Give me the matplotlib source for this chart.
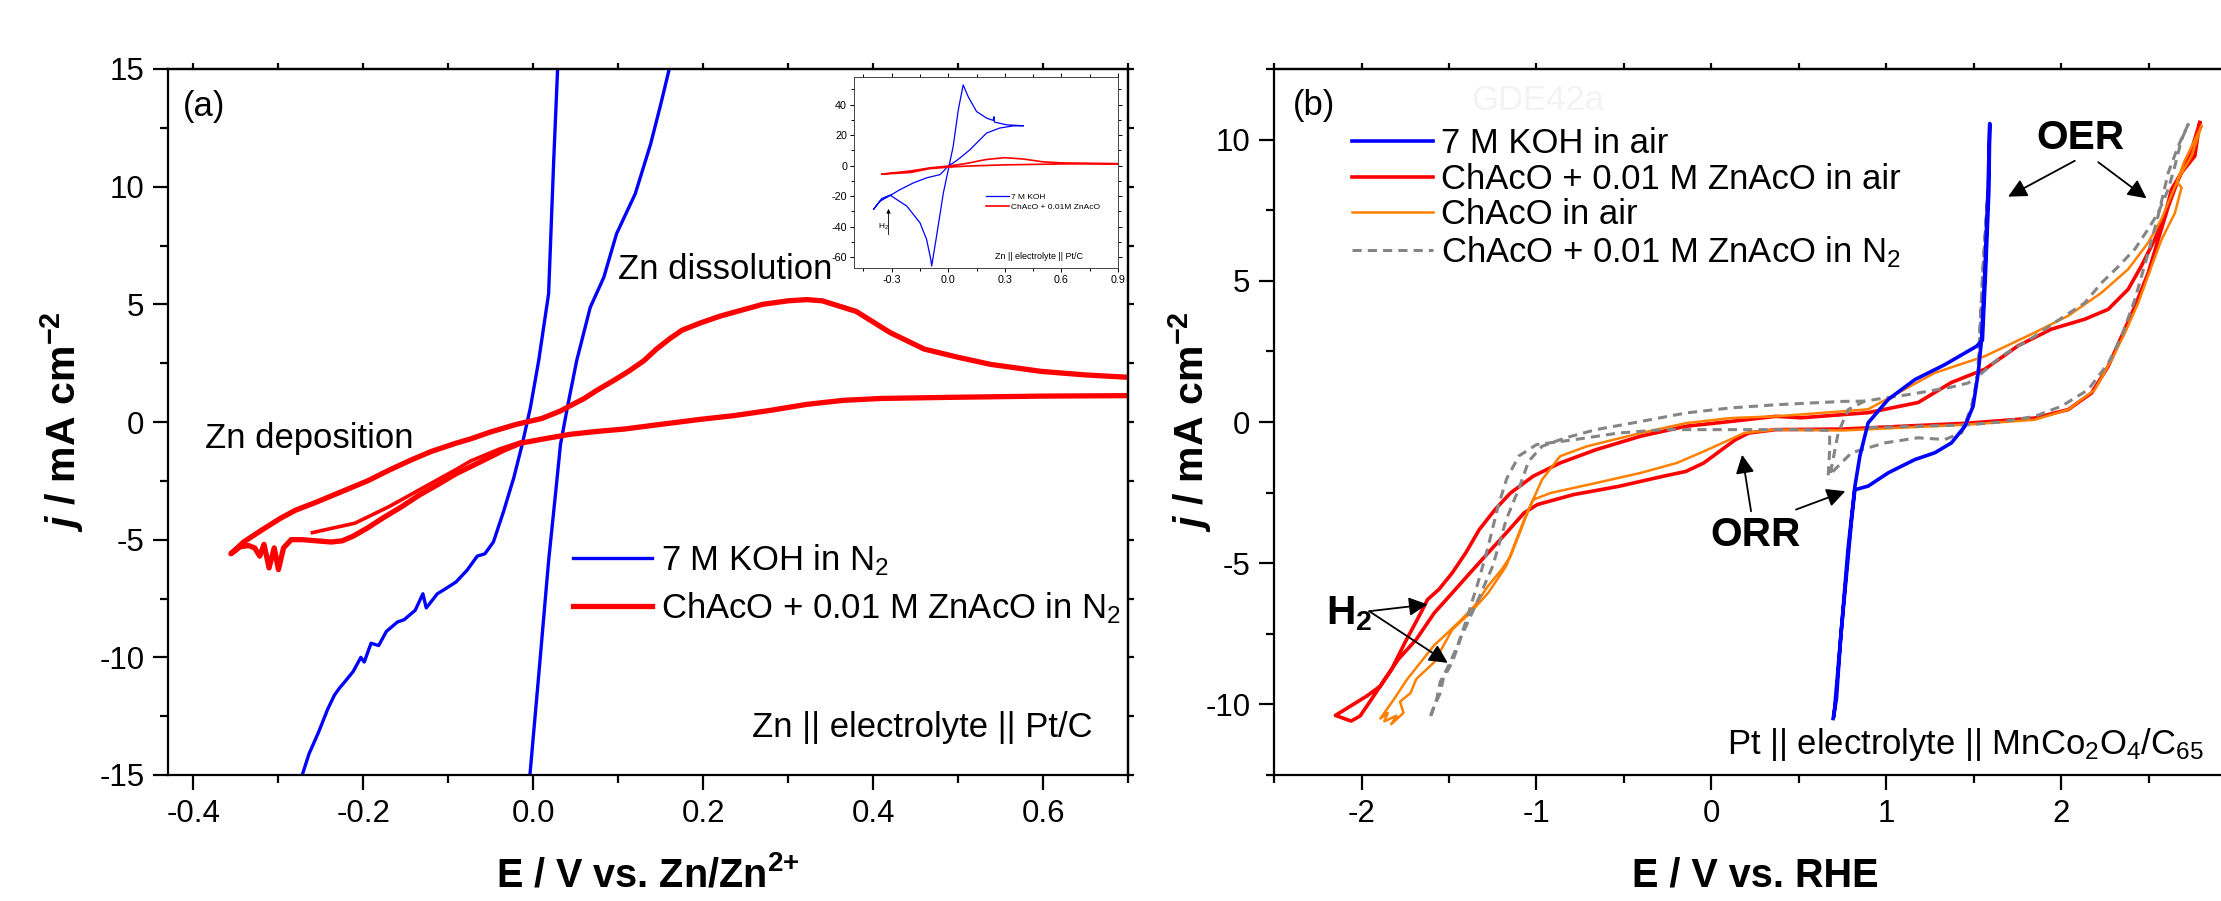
import numpy as np
import matplotlib
matplotlib.use('Agg')
import matplotlib.pyplot as plt
from matplotlib.ticker import MultipleLocator, FixedLocator, FormatStrFormatter
from matplotlib import font_manager

names = {f.name for f in font_manager.fontManager.ttflist}
if 'Liberation Sans Narrow' in names:
    FONT, K = 'Liberation Sans Narrow', 1.0
else:
    FONT, K = 'Liberation Sans', 0.86   # regular width face -> smaller sizes
plt.rcParams['font.family'] = [FONT, 'DejaVu Sans']
plt.rcParams['axes.unicode_minus'] = False
plt.rcParams['mathtext.fontset'] = 'custom'
plt.rcParams['mathtext.rm'] = FONT
plt.rcParams['mathtext.it'] = FONT + ':italic'
plt.rcParams['mathtext.bf'] = FONT + ':bold'
plt.rcParams['mathtext.bfit'] = FONT + ':bold:italic'

# ---------------- panel (a): Zn || electrolyte || Pt/C ----------------
# 7 M KOH in N2, cathodic (noisy) branch up to the steep rise
koh_a_v1 = [-0.272, -0.264, -0.253, -0.242, -0.234, -0.228, -0.221, -0.212, -0.203, -0.199,
            -0.191, -0.182, -0.173, -0.160, -0.152, -0.139, -0.130, -0.126, -0.113, -0.104,
            -0.091, -0.078, -0.066, -0.057, -0.047, -0.035, -0.023, -0.013, -0.0035, 0.0063,
            0.018, 0.024, 0.0286]
koh_a_j1 = [-15.0, -14.1, -13.2, -12.2, -11.6, -11.3, -11.0, -10.6, -10.0, -10.2,
            -9.4, -9.5, -8.9, -8.5, -8.4, -8.0, -7.3, -7.9, -7.3, -7.1,
            -6.8, -6.3, -5.7, -5.6, -5.1, -3.8, -2.37, -0.94, 0.6, 2.6,
            5.45, 11.1, 15.0]
# 7 M KOH in N2, anodic branch
koh_a_v2 = [-0.004, 0.007, 0.018, 0.026, 0.032, 0.040, 0.051, 0.067, 0.083, 0.098, 0.120, 0.138, 0.150, 0.160]
koh_a_j2 = [-15.0, -10.5, -5.9, -3.1, -0.95, 0.6, 2.6, 4.87, 6.15, 8.0, 9.7, 11.8, 13.5, 15.0]

# ChAcO + 0.01 M ZnAcO in N2
zn_a_v = [0.700, 0.650, 0.598, 0.538, 0.500, 0.460, 0.420, 0.380, 0.340, 0.322, 0.300, 0.270,
          0.245, 0.220, 0.196, 0.175, 0.161, 0.145, 0.130, 0.112, 0.094, 0.075, 0.060, 0.045,
          0.032, 0.010, -0.020, -0.050, -0.074, -0.091, -0.120, -0.143, -0.170, -0.195, -0.225,
          -0.255, -0.280, -0.298, -0.320, -0.341, -0.356, -0.345, -0.335, -0.328, -0.322, -0.317,
          -0.311, -0.305, -0.300, -0.294, -0.285, -0.272, -0.255, -0.238, -0.225, -0.212, -0.195,
          -0.178, -0.155, -0.134, -0.112, -0.091, -0.074, -0.057, -0.035, -0.015, 0.015, 0.044,
          0.075, 0.107, 0.150, 0.196, 0.236, 0.280, 0.322, 0.365, 0.409, 0.495, 0.598, 0.700]
zn_a_j = [1.9, 2.0, 2.15, 2.45, 2.75, 3.1, 3.8, 4.7, 5.15, 5.2, 5.15, 5.0,
          4.75, 4.5, 4.2, 3.9, 3.55, 3.1, 2.6, 2.15, 1.75, 1.35, 1.0, 0.72,
          0.47, 0.15, -0.1, -0.42, -0.72, -0.9, -1.25, -1.6, -2.05, -2.5, -2.95,
          -3.4, -3.75, -4.1, -4.6, -5.1, -5.6, -5.3, -5.25, -5.35, -5.7, -5.2,
          -6.2, -5.35, -6.27, -5.35, -5.0, -5.0, -5.05, -5.1, -5.05, -4.85, -4.5,
          -4.1, -3.6, -3.1, -2.65, -2.2, -1.9, -1.6, -1.2, -0.9, -0.7, -0.52,
          -0.4, -0.3, -0.1, 0.11, 0.27, 0.5, 0.75, 0.92, 1.0, 1.05, 1.1, 1.12]
# second cycle (lower double line)
zn_a_v2 = [-0.26, -0.21, -0.17, -0.13, -0.09, -0.074, -0.04, -0.015]
zn_a_j2 = [-4.7, -4.3, -3.6, -2.8, -2.0, -1.66, -1.15, -0.85]

# inset: full CVs
inset_koh_v = [0.397, 0.344, 0.273, 0.203, 0.168, 0.115, 0.062, 0.026, 0.0, -0.026, -0.044, -0.115,
               -0.185, -0.256, -0.309, -0.362, -0.397, -0.353, -0.309, -0.22, -0.15, -0.115, -0.093,
               -0.088, -0.062, -0.026, 0.0, 0.026, 0.053, 0.079, 0.106, 0.15, 0.203, 0.238, 0.242,
               0.245, 0.309, 0.397]
inset_koh_j = [26.1, 26.0, 24.6, 21.3, 17.0, 10.4, 5.0, 1.7, 0.0, -3.7, -5.9, -8.0,
               -11.3, -15.7, -19.6, -23.3, -28.7, -21.5, -19.3, -26.5, -37.4, -48.3, -61.3,
               -65.7, -46.0, -17.8, -2.6, 12.6, 36.5, 52.8, 45.0, 35.4, 31.1, 29.6, 32.0,
               28.5, 26.7, 26.1]
inset_zn_v = [-0.35, -0.2, -0.1, 0.0, 0.1, 0.2, 0.3, 0.4, 0.5, 0.6, 0.9,
              0.9, 0.6, 0.3, 0.1, 0.0, -0.1, -0.2, -0.3, -0.35]
inset_zn_j = [-5.5, -3.5, -1.5, -0.3, 1.5, 4.0, 5.2, 4.3, 2.5, 1.8, 1.3,
              1.2, 1.1, 0.5, -0.3, -1.0, -2.0, -4.5, -5.2, -5.5]

# ---------------- panel (b): Pt || electrolyte || MnCo2O4/C65 ----------------
koh_b_v = [0.695, 0.714, 0.74, 0.77, 0.80, 0.819, 0.895, 1.01, 1.162, 1.276, 1.371, 1.448, 1.495,
           1.524, 1.543, 1.562, 1.58, 1.59, 1.585, 1.566, 1.548, 1.514, 1.333, 1.162, 1.01, 0.895,
           0.848, 0.819, 0.78, 0.74, 0.70]
koh_b_j = [-10.5, -9.8, -7.5, -5.5, -3.5, -2.4, -2.27, -1.8, -1.33, -1.09, -0.74, -0.15, 0.56,
           1.74, 2.9, 5.3, 8.2, 10.57, 8.2, 5.3, 2.9, 2.68, 2.03, 1.5, 0.8, -0.03,
           -1.2, -2.3, -4.5, -7.5, -10.4]

zn_b_v = [2.79, 2.762, 2.686, 2.629, 2.59, 2.533, 2.457, 2.381, 2.267, 2.133, 1.943, 1.752, 1.562,
          1.371, 1.181, 0.895, 0.514, 0.367, 0.11, -0.146, -0.403, -0.66, -0.865, -1.019, -1.148,
          -1.237, -1.327, -1.404, -1.481, -1.558, -1.623, -1.661, -1.751, -1.828, -1.892, -1.969,
          -2.149, -2.059, -2.008, -1.943, -1.866, -1.789, -1.687, -1.584, -1.481, -1.379, -1.276,
          -1.173, -1.071, -0.994, -0.788, -0.531, -0.275, -0.146, -0.044, 0.059, 0.136, 0.213,
          0.367, 0.752, 1.467, 1.848, 2.038, 2.171, 2.267, 2.343, 2.419, 2.495, 2.552, 2.61,
          2.667, 2.743, 2.79]
zn_b_j = [10.6, 9.42, 8.83, 8.24, 7.3, 6.47, 5.53, 4.7, 3.99, 3.64, 3.29, 2.7, 1.87,
          1.4, 0.69, 0.33, 0.15, 0.2, 0.02, -0.15, -0.5, -0.98, -1.45, -1.92, -2.51,
          -3.1, -3.81, -4.63, -5.34, -5.93, -6.29, -6.76, -7.8, -8.76, -9.35, -9.7,
          -10.39, -10.59, -10.41, -9.82, -9.1, -8.4, -7.7, -6.76, -6.05, -5.34, -4.63,
          -3.93, -3.22, -2.92, -2.57, -2.28, -1.92, -1.75, -1.45, -0.98, -0.63, -0.39,
          -0.27, -0.25, -0.04, 0.14, 0.44, 1.02, 1.97, 3.03, 4.09, 5.27, 6.45, 7.63,
          8.58, 9.64, 10.6]

cha_b_v = [2.80, 2.743, 2.667, 2.61, 2.571, 2.495, 2.381, 2.229, 2.038, 1.848, 1.562, 1.276, 0.895,
           0.752, 0.367, 0.11, -0.146, -0.403, -0.711, -0.865, -0.968, -1.045, -1.096, -1.148,
           -1.199, -1.276, -1.353, -1.43, -1.507, -1.584, -1.661, -1.738, -1.815, -1.892, -1.85,
           -1.87, -1.80, -1.83, -1.76, -1.78, -1.72, -1.687, -1.584, -1.481, -1.379, -1.276, -1.173,
           -1.071, -1.019, -0.917, -0.66, -0.403, -0.198, -0.044, 0.085, 0.187, 0.367, 0.752,
           1.467, 1.848, 2.038, 2.19, 2.286, 2.362, 2.438, 2.514, 2.571, 2.648, 2.686, 2.66,
           2.70, 2.80]
cha_b_j = [10.48, 9.42, 8.6, 7.77, 7.18, 6.35, 5.41, 4.58, 3.76, 3.17, 2.33, 1.74, 0.45,
           0.38, 0.2, 0.14, -0.04, -0.39, -0.86, -1.21, -2.04, -3.1, -3.93, -4.75,
           -5.22, -5.8, -6.5, -7.0, -7.46, -7.9, -8.5, -9.1, -9.82, -10.5, -10.3,
           -10.6, -10.4, -10.7, -10.3, -9.9, -9.6, -9.1, -8.5, -7.35, -6.76, -6.05, -5.1,
           -3.46, -2.75, -2.51, -2.16, -1.8, -1.45, -1.04, -0.68, -0.39, -0.27, -0.3,
           -0.09, 0.08, 0.44, 1.14, 2.2, 3.15, 4.21, 5.5, 6.45, 7.4, 8.3, 8.5,
           9.2, 10.48]

n2_b_v = [0.876, 0.752, 0.367, 0.11, -0.146, -0.403, -0.66, -0.84, -0.968, -1.045, -1.096, -1.173,
          -1.25, -1.327, -1.43, -1.481, -1.533, -1.55, -1.58, -1.61, -1.57, -1.55, -1.50, -1.45,
          -1.40, -1.33, -1.28, -1.22, -1.17, -1.10, -1.0, -0.788, -0.531, -0.275, 0.11, 0.496,
          0.675, 0.675, 0.667, 0.686, 0.8, 0.99, 1.18, 1.333, 1.43, 1.486, 1.524, 1.55, 1.58,
          1.55, 1.52, 1.467, 1.352, 1.238, 1.124, 0.99, 0.876, 0.781, 0.724, 0.68, 0.676, np.nan,
          0.9, 1.467, 1.65, 1.848, 2.0, 2.152, 2.267, 2.343, 2.419, 2.495, 2.552, 2.61, 2.667,
          2.724, 2.686, 2.648, 2.61, 2.552, 2.495, 2.419, 2.324, 2.229, 2.133, 1.99, 1.848,
          1.657, 1.52]
n2_b_j = [0.74, 0.73, 0.61, 0.5, 0.32, 0.02, -0.27, -0.57, -0.86, -1.39, -2.28, -3.46,
          -5.1, -6.2, -7.6, -8.5, -9.1, -9.6, -10.0, -10.5, -9.8, -9.2, -8.6, -7.9,
          -7.0, -5.6, -4.5, -3.0, -2.0, -1.2, -0.8, -0.63, -0.39, -0.27, -0.27, -0.27,
          -0.3, -1.0, -1.9, -1.8, -1.09, -0.74, -0.56, -0.62, -0.38, 0.56, 1.74, 5.27, 8.2,
          5.27, 1.6, 1.38, 1.21, 1.09, 0.97, 0.85, 0.74, 0.44, -0.38, -1.8, -2.03, np.nan,
          -0.2, -0.1, 0.0, 0.2, 0.56, 1.14, 2.08, 3.03, 4.33, 5.98, 7.3, 8.83, 9.77,
          10.54, 10.0, 9.07, 8.24, 7.4, 6.83, 6.12, 5.5, 4.93, 4.22, 3.64, 3.04,
          2.33, 1.6]
b_xticks = [-2, -1, 0, 1, 2]

BLUE = '#0000ff'
RED = '#ff0000'
ORANGE = '#ff8000'
GRAY = '#858585'
FS = 29 * K        # annotation / legend text
TICK = 25 * K + 1
LAB = 32 * K + 1   # axis titles
BIG = 34 * K       # OER / ORR / H2


def style_axes(ax, xmaj, xmin, ymaj, ymin, xfmt=None):
    ax.xaxis.set_major_locator(xmaj)
    ax.xaxis.set_minor_locator(MultipleLocator(xmin))
    ax.yaxis.set_major_locator(MultipleLocator(ymaj))
    ax.yaxis.set_minor_locator(MultipleLocator(ymin))
    if xfmt:
        ax.xaxis.set_major_formatter(FormatStrFormatter(xfmt))
    ax.tick_params(which='major', direction='out', length=11, width=1.6, labelsize=TICK, pad=6)
    ax.tick_params(which='minor', direction='out', length=6, width=1.6)
    for s in ax.spines.values():
        s.set_linewidth(1.6)
    top = ax.secondary_xaxis('top')
    top.xaxis.set_major_locator(MultipleLocator(xmin))
    top.tick_params(length=4, width=1.6, labeltop=False)
    top.spines['top'].set_linewidth(1.6)
    right = ax.secondary_yaxis('right')
    right.yaxis.set_major_locator(MultipleLocator(ymin))
    right.tick_params(length=4, width=1.6, labelright=False)
    right.spines['right'].set_linewidth(1.6)


fig = plt.figure(figsize=(22.21, 9.01), dpi=100)
YLAB = '$\\mathbfit{j}$ / mA cm$^{\\mathbf{-2}}$'

# ---- panel (a)
ax_a = fig.add_axes([168 / 2221, 126 / 901, 960 / 2221, 706 / 901])
l1, = ax_a.plot(koh_a_v1, koh_a_j1, color=BLUE, lw=2.4)
ax_a.plot(koh_a_v2, koh_a_j2, color=BLUE, lw=2.4)
l2, = ax_a.plot(zn_a_v, zn_a_j, color=RED, lw=3.8)
ax_a.plot(zn_a_v2, zn_a_j2, color=RED, lw=2.6)
ax_a.set_xlim(-0.43, 0.7)
ax_a.set_ylim(-15, 15)
style_axes(ax_a, MultipleLocator(0.2), 0.1, 5, 2.5, '%.1f')
ax_a.set_xlabel('E / V vs. Zn/Zn$^{\\mathbf{2{+}}}$', fontsize=LAB, fontweight='bold')
ax_a.set_ylabel(YLAB, fontsize=LAB + 1, fontweight='bold')
ax_a.xaxis.set_label_coords(0.5, -0.142)
ax_a.xaxis.label.set_verticalalignment('center')
ax_a.yaxis.set_label_coords(-0.11, 0.5)
ax_a.yaxis.label.set_verticalalignment('center')
ax_a.text(-0.413, 13.4, '(a)', fontsize=FS, va='center', ha='left')
ax_a.text(-0.386, -0.7, 'Zn deposition', fontsize=FS, va='center', ha='left')
ax_a.text(0.100, 6.5, 'Zn dissolution', fontsize=FS, va='center', ha='left')
ax_a.text(0.258, -13.0, 'Zn || electrolyte || Pt/C', fontsize=FS, va='center', ha='left')
ax_a.legend([l1, l2], ['7 M KOH in N$_2$', 'ChAcO + 0.01 M ZnAcO in N$_2$'],
            loc='upper left', bbox_to_anchor=(0.422, 0.33), frameon=False, fontsize=FS,
            handlelength=57 / FS, handletextpad=0.25, borderpad=0, borderaxespad=0,
            labelspacing=0.36)

# ---- inset
ax_in = fig.add_axes([854 / 2221, (901 - 268) / 901, 264 / 2221, 191 / 901])
il1, = ax_in.plot(inset_koh_v, inset_koh_j, color=BLUE, lw=0.9)
il2, = ax_in.plot(inset_zn_v, inset_zn_j, color=RED, lw=1.2)
ax_in.set_xlim(-0.5, 0.9)
ax_in.set_ylim(-67, 58)
ax_in.xaxis.set_major_locator(MultipleLocator(0.3))
ax_in.xaxis.set_minor_locator(MultipleLocator(0.15))
ax_in.yaxis.set_major_locator(MultipleLocator(20))
ax_in.yaxis.set_minor_locator(MultipleLocator(10))
ax_in.xaxis.set_major_formatter(FormatStrFormatter('%.1f'))
ax_in.tick_params(which='major', direction='out', length=3, width=0.7, labelsize=9 * K, pad=2,
                  top=True, right=True)
ax_in.tick_params(which='minor', direction='out', length=2, width=0.7, top=True, right=True)
for s in ax_in.spines.values():
    s.set_linewidth(0.7)
    s.set_color('#444444')
ax_in.legend([il1, il2], ['7 M KOH', 'ChAcO + 0.01M ZnAcO'], loc='upper left',
             bbox_to_anchor=(0.5, 0.39), frameon=False, fontsize=7 * K, handlelength=2.8,
             handletextpad=0.2, borderpad=0, borderaxespad=0, labelspacing=0.25)
ax_in.text(0.25, -59.6, 'Zn || electrolyte || Pt/C', fontsize=7.5 * K, va='center', ha='left')
ax_in.text(-0.375, -40, 'H$_2$', fontsize=6, va='center', ha='left')
ax_in.annotate('', xy=(-0.317, -26.5), xytext=(-0.317, -47),
               arrowprops=dict(arrowstyle='-|>', color='k', lw=0.6, mutation_scale=6))

# ---- panel (b)
ax_b = fig.add_axes([1274 / 2221, 126 / 901, 962.5 / 2221, 706 / 901])
m1, = ax_b.plot(koh_b_v, koh_b_j, color=BLUE, lw=2.6, zorder=3)
m2, = ax_b.plot(zn_b_v, zn_b_j, color=RED, lw=2.6, zorder=2)
m3, = ax_b.plot(cha_b_v, cha_b_j, color=ORANGE, lw=1.8, zorder=2)
m4, = ax_b.plot(n2_b_v, n2_b_j, color=GRAY, lw=2.2, ls=(0, (3, 2)), zorder=2)
ax_b.set_xlim(-2.5, 3.0)
ax_b.set_ylim(-12.5, 12.5)
style_axes(ax_b, FixedLocator(b_xticks), 0.5, 5, 2.5)
ax_b.set_xlabel('E / V vs. RHE', fontsize=LAB, fontweight='bold')
ax_b.set_ylabel(YLAB, fontsize=LAB + 1, fontweight='bold')
ax_b.xaxis.set_label_coords(0.5, -0.142)
ax_b.xaxis.label.set_verticalalignment('center')
ax_b.yaxis.set_label_coords(-0.087, 0.5)
ax_b.yaxis.label.set_verticalalignment('center')
ax_b.text(-2.39, 11.2, '(b)', fontsize=FS, va='center', ha='left')
ax_b.text(-1.37, 11.4, 'GDE42a', fontsize=FS, va='center', ha='left', color='#f3f3f3')
ax_b.text(1.857, 10.05, 'OER', fontsize=BIG, fontweight='bold', va='center', ha='left')
ax_b.text(-0.005, -3.99, 'ORR', fontsize=BIG, fontweight='bold', va='center', ha='left')
ax_b.text(-2.2, -6.8, 'H$_{\\mathbf{2}}$', fontsize=BIG, fontweight='bold', va='center', ha='left')
ax_b.text(0.086, -11.75, 'Pt || electrolyte || MnCo$_2$O$_4$/C$_{65}$', fontsize=FS,
          va='baseline', ha='left')
arrows_b = [((1.695, 7.98), (2.076, 9.25)), ((2.486, 7.92), (2.21, 9.2)),
            ((0.175, -1.16), (0.226, -3.16)), ((0.765, -2.45), (0.483, -3.1)),
            ((-1.623, -6.46), (-1.956, -6.7)), ((-1.507, -8.53), (-1.956, -6.7))]
for tip, tail in arrows_b:
    ax_b.annotate('', xy=tip, xytext=tail,
                  arrowprops=dict(arrowstyle='-|>', color='k', lw=1.3, mutation_scale=28,
                                  shrinkA=0, shrinkB=0))
ax_b.legend([m1, m2, m3, m4], ['7 M KOH in air', 'ChAcO + 0.01 M ZnAcO in air', 'ChAcO in air',
                               'ChAcO + 0.01 M ZnAcO in N$_2$'],
            loc='upper left', bbox_to_anchor=(0.081, 0.918), frameon=False, fontsize=FS,
            handlelength=58 / FS, handletextpad=0.25, borderpad=0, borderaxespad=0,
            labelspacing=0.08)

fig.savefig('out.png', dpi=100)
